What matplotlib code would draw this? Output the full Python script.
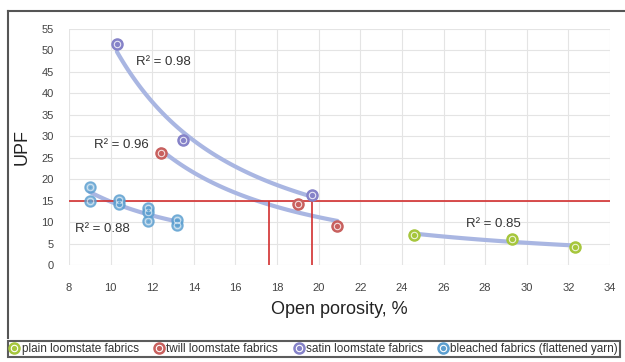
#!/usr/bin/env python3
"""
UPF vs open porosity for loomstate and bleached fabrics, with power-law trend lines.
"""

import numpy as np
import matplotlib.pyplot as plt
from matplotlib.lines import Line2D
from matplotlib.legend_handler import HandlerTuple

plt.rcParams['font.family'] = ['Liberation Sans', 'DejaVu Sans']

# Measured points: open porosity (%) and UPF
plain_x = [24.6, 29.3, 32.3]
plain_y = [7.0, 6.1, 4.2]
twill_x = [12.4, 19.0, 20.9]
twill_y = [26.2, 14.2, 9.1]
satin_x = [10.3, 13.5, 19.7]
satin_y = [51.5, 29.1, 16.3]
bleached_x = [9.0, 9.0, 10.4, 10.4, 11.8, 11.8, 11.8, 13.2, 13.2]
bleached_y = [18.2, 14.9, 15.1, 14.3, 13.4, 12.3, 10.2, 10.5, 9.3]

r2_labels = ['0.85', '0.96', '0.98', '0.88']
r2_pos = [(27.1, 9.6), (9.2, 28.0), (11.2, 47.3), (8.3, 8.4)]

upf_limit = 15
porosity_limits = [17.6, 19.7]

series_names = ['plain loomstate fabrics', 'twill loomstate fabrics',
                'satin loomstate fabrics', 'bleached fabrics (flattened yarn)']
colors = ['#a6c63c', '#c8605e', '#8582c8', '#5c9fd0']
trend_color = '#a9b6e2'


def power_fit(x, y):
    b, ln_a = np.polyfit(np.log(x), np.log(y), 1)
    xs = np.linspace(min(x), max(x), 100)
    return xs, np.exp(ln_a) * xs ** b


def ring(ax, x, y, color, alpha=1.0):
    ax.plot(x, y, 'o', ms=8, mfc=color, mec=color, alpha=alpha, zorder=5, ls='none')
    ax.plot(x, y, 'o', ms=4.6, mfc='none', mec='white', mew=0.8, alpha=0.8 * alpha, zorder=6, ls='none')
    ax.plot(x, y, 'o', ms=2, mfc=color, mec='none', alpha=alpha, zorder=7, ls='none')


fig = plt.figure(figsize=(6.25, 3.62), dpi=100)
ax = fig.add_axes([69 / 625, 1 - 265 / 362, 541 / 625, 236 / 362])

data = [(plain_x, plain_y), (twill_x, twill_y), (satin_x, satin_y), (bleached_x, bleached_y)]

# trend lines
for x, y in data:
    xs, ys = power_fit(x, y)
    ax.plot(xs, ys, color=trend_color, lw=3, solid_capstyle='round', zorder=3)

# threshold lines
ax.axhline(upf_limit, color='#d22f2f', lw=1.2, zorder=4)
ax.vlines(porosity_limits, -0.6, upf_limit, color='#d22f2f', lw=1.2, zorder=4)

for (x, y), c in zip(data[:3], colors[:3]):
    ring(ax, x, y, c)
ring(ax, bleached_x, bleached_y, colors[3], alpha=0.75)

for lbl, (px, py) in zip(r2_labels, r2_pos):
    ax.text(px, py, 'R\u00b2 = ' + lbl, fontsize=9.5, color='#333333', ha='left', va='center', zorder=8)

ax.set_xlim(8, 34)
ax.set_ylim(0, 55)
ax.set_xticks(np.arange(8, 35, 2))
ax.set_yticks(np.arange(0, 56, 5))
ax.grid(True, color='#e4e4e4', lw=0.8)
ax.set_axisbelow(True)
for s in ax.spines.values():
    s.set_visible(False)
ax.tick_params(length=0, labelsize=8, colors='#444444')
ax.tick_params(axis='x', pad=13)
ax.tick_params(axis='y', pad=11)
ax.set_xlabel('Open porosity, %', fontsize=13, color='#222222', labelpad=6)
ax.set_ylabel('UPF', fontsize=13, color='#222222', labelpad=8)

# outer frame of the chart area
fig.add_artist(Line2D([8 / 625, 1], [1 - 11 / 362] * 2, transform=fig.transFigure, color='#555555', lw=1.5))
fig.add_artist(Line2D([8 / 625] * 2, [1 - 11 / 362, 1 - 338 / 362], transform=fig.transFigure, color='#555555', lw=1.5))

handles = []
for c in colors:
    outer = Line2D([], [], marker='o', ms=8, mfc=c, mec=c, ls='none')
    inner = Line2D([], [], marker='o', ms=4.6, mfc='none', mec='white', mew=0.8, ls='none')
    dot = Line2D([], [], marker='o', ms=2, mfc=c, mec='none', ls='none')
    handles.append((outer, inner, dot))

leg = fig.legend(handles, series_names, ncol=4, loc='lower left',
                 bbox_to_anchor=(8 / 625, 5 / 362, 612 / 625, 19 / 362), mode='expand',
                 handler_map={tuple: HandlerTuple(ndivide=1, pad=0)},
                 frameon=True, fancybox=False, edgecolor='#333333', handlelength=0.8,
                 handletextpad=0.2, borderpad=0.15, borderaxespad=0, columnspacing=1.0,
                 prop={'family': ['Liberation Sans Narrow', 'Liberation Sans'], 'size': 8.5})
leg.get_frame().set_linewidth(1.5)
for t in leg.get_texts():
    t.set_color('#333333')

fig.savefig('out.png', dpi=100)
